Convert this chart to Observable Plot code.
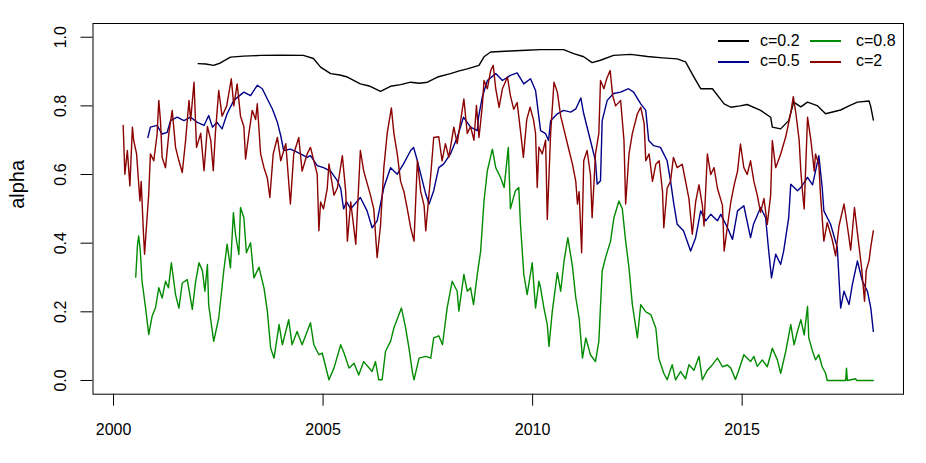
<!DOCTYPE html>
<html>
<head>
<meta charset="utf-8">
<script src="https://cdn.jsdelivr.net/npm/d3@7"></script>
<script src="https://cdn.jsdelivr.net/npm/@observablehq/plot@0.6"></script>
<style>
  html, body { margin: 0; padding: 0; background: white; }
  #wrap { position: relative; width: 926px; height: 463px; font-family: "Liberation Sans", Arial, sans-serif; }
  .legtext { position: absolute; font-size: 16px; line-height: 16px; color: black; white-space: nowrap; }
  .legline { position: absolute; height: 0; width: 31px; border-top-width: 2px; border-top-style: solid; }
</style>
</head>
<body>
<div id="wrap"></div>
<script>
// ---- data (decimal year, alpha) ----
const seriesLabels = ["c=0.2", "c=0.5", "c=0.8", "c=2"];
const seriesColors = ["#000000", "#00008B", "#008B00", "#8B0000"];
const xTicks = [2000, 2005, 2010, 2015];
const yTicks = [0, 0.2, 0.4, 0.6, 0.8, 1.0];

const c02 = [
  [2002.02,0.923],[2002.20,0.922],[2002.39,0.918],[2002.55,0.925],[2002.79,0.942],[2003.10,0.945],[2003.51,0.947],
  [2004.00,0.948],[2004.53,0.947],[2004.77,0.938],[2004.94,0.913],[2005.18,0.894],[2005.40,0.890],[2005.58,0.884],
  [2005.89,0.864],[2006.10,0.858],[2006.37,0.842],[2006.61,0.857],[2006.85,0.862],[2007.09,0.869],[2007.30,0.866],
  [2007.49,0.869],[2007.73,0.884],[2008.04,0.894],[2008.25,0.902],[2008.44,0.908],[2008.72,0.918],[2008.84,0.943],
  [2009.00,0.957],[2009.47,0.960],[2009.85,0.962],[2010.19,0.964],[2010.74,0.964],[2010.98,0.952],[2011.22,0.943],
  [2011.42,0.926],[2011.62,0.933],[2011.93,0.947],[2012.34,0.950],[2012.74,0.944],[2013.10,0.940],[2013.45,0.937],
  [2013.65,0.928],[2013.85,0.884],[2014.01,0.850],[2014.29,0.850],[2014.57,0.806],[2014.73,0.796],[2014.95,0.800],
  [2015.12,0.804],[2015.44,0.787],[2015.68,0.767],[2015.72,0.738],[2015.92,0.733],[2016.11,0.757],[2016.23,0.811],
  [2016.40,0.797],[2016.56,0.811],[2016.79,0.801],[2016.99,0.777],[2017.35,0.788],[2017.55,0.800],[2017.75,0.811],
  [2018.03,0.814],[2018.07,0.797],[2018.13,0.759]
];

const c05 = [
  [2000.82,0.708],[2000.88,0.738],[2001.04,0.743],[2001.16,0.718],[2001.28,0.723],[2001.36,0.757],[2001.52,0.767],
  [2001.68,0.757],[2001.84,0.767],[2002.00,0.752],[2002.16,0.743],[2002.27,0.772],[2002.36,0.738],[2002.47,0.752],
  [2002.59,0.733],[2002.71,0.777],[2002.87,0.816],[2003.11,0.840],[2003.27,0.830],[2003.43,0.860],[2003.55,0.850],
  [2003.67,0.820],[2003.79,0.791],[2003.91,0.752],[2003.99,0.713],[2004.06,0.670],[2004.22,0.674],[2004.38,0.665],
  [2004.62,0.650],[2004.70,0.655],[2004.86,0.626],[2005.01,0.620],[2005.18,0.610],[2005.34,0.582],[2005.42,0.560],
  [2005.49,0.500],[2005.56,0.520],[2005.66,0.500],[2005.89,0.533],[2006.05,0.494],[2006.17,0.445],[2006.29,0.465],
  [2006.45,0.562],[2006.61,0.620],[2006.77,0.601],[2006.92,0.631],[2007.09,0.670],[2007.16,0.679],[2007.25,0.640],
  [2007.33,0.601],[2007.45,0.543],[2007.53,0.514],[2007.64,0.553],[2007.76,0.620],[2007.88,0.631],[2008.04,0.660],
  [2008.20,0.708],[2008.35,0.767],[2008.52,0.738],[2008.68,0.728],[2008.71,0.767],[2008.80,0.826],[2008.92,0.874],
  [2009.12,0.894],[2009.28,0.874],[2009.47,0.889],[2009.63,0.896],[2009.79,0.864],[2009.95,0.879],[2010.07,0.845],
  [2010.19,0.728],[2010.31,0.719],[2010.38,0.699],[2010.43,0.757],[2010.59,0.777],[2010.74,0.787],[2010.91,0.782],
  [2011.03,0.791],[2011.15,0.823],[2011.22,0.777],[2011.38,0.699],[2011.50,0.640],[2011.54,0.572],[2011.62,0.582],
  [2011.66,0.757],[2011.78,0.816],[2011.93,0.836],[2012.10,0.840],[2012.29,0.850],[2012.41,0.840],[2012.58,0.806],
  [2012.70,0.787],[2012.77,0.699],[2012.89,0.684],[2013.05,0.679],[2013.21,0.640],[2013.29,0.582],[2013.37,0.514],
  [2013.45,0.455],[2013.60,0.436],[2013.77,0.377],[2013.89,0.416],[2014.01,0.494],[2014.13,0.465],[2014.25,0.484],
  [2014.41,0.465],[2014.49,0.484],[2014.65,0.445],[2014.77,0.411],[2014.89,0.494],[2015.04,0.509],[2015.20,0.416],
  [2015.27,0.455],[2015.44,0.504],[2015.56,0.474],[2015.63,0.382],[2015.70,0.299],[2015.80,0.368],[2015.92,0.338],
  [2015.99,0.377],[2016.11,0.474],[2016.16,0.572],[2016.32,0.553],[2016.40,0.562],[2016.56,0.592],[2016.68,0.570],
  [2016.83,0.655],[2016.91,0.562],[2016.95,0.494],[2017.11,0.455],[2017.27,0.387],[2017.35,0.211],[2017.43,0.260],
  [2017.55,0.221],[2017.63,0.280],[2017.75,0.348],[2017.87,0.289],[2017.99,0.260],[2018.07,0.211],[2018.13,0.143]
];

const c08 = [
  [2000.53,0.301],[2000.57,0.392],[2000.60,0.421],[2000.64,0.377],[2000.68,0.289],[2000.76,0.216],[2000.84,0.134],
  [2000.92,0.187],[2001.00,0.211],[2001.08,0.270],[2001.16,0.240],[2001.24,0.289],[2001.31,0.270],[2001.38,0.343],
  [2001.48,0.250],[2001.56,0.211],[2001.64,0.284],[2001.76,0.294],[2001.88,0.207],[2001.96,0.289],[2002.04,0.343],
  [2002.12,0.320],[2002.18,0.260],[2002.24,0.338],[2002.27,0.221],[2002.39,0.114],[2002.51,0.182],[2002.63,0.319],
  [2002.71,0.397],[2002.79,0.328],[2002.86,0.489],[2002.91,0.426],[2002.99,0.367],[2003.03,0.504],[2003.11,0.474],
  [2003.17,0.372],[2003.27,0.401],[2003.35,0.299],[2003.47,0.330],[2003.59,0.270],[2003.67,0.202],[2003.75,0.094],
  [2003.83,0.065],[2003.95,0.163],[2004.03,0.104],[2004.18,0.177],[2004.26,0.104],[2004.38,0.143],[2004.50,0.104],
  [2004.70,0.168],[2004.78,0.104],[2004.90,0.075],[2004.98,0.080],[2005.14,0.002],[2005.26,0.036],[2005.42,0.104],
  [2005.50,0.080],[2005.62,0.036],[2005.74,0.050],[2005.85,0.016],[2005.97,0.055],[2006.17,0.026],[2006.25,0.055],
  [2006.33,0.002],[2006.41,0.002],[2006.49,0.085],[2006.61,0.114],[2006.69,0.153],[2006.81,0.192],[2006.87,0.211],
  [2006.97,0.153],[2007.05,0.094],[2007.13,0.026],[2007.17,0.002],[2007.29,0.065],[2007.45,0.070],[2007.57,0.065],
  [2007.64,0.124],[2007.76,0.130],[2007.85,0.104],[2007.96,0.211],[2008.08,0.289],[2008.20,0.260],[2008.24,0.202],
  [2008.36,0.309],[2008.44,0.260],[2008.52,0.270],[2008.59,0.221],[2008.68,0.309],[2008.76,0.377],[2008.84,0.523],
  [2008.92,0.611],[2009.04,0.674],[2009.12,0.620],[2009.24,0.590],[2009.32,0.562],[2009.42,0.679],[2009.47,0.500],
  [2009.59,0.553],[2009.67,0.562],[2009.71,0.455],[2009.79,0.309],[2009.87,0.250],[2009.99,0.343],[2010.07,0.211],
  [2010.15,0.289],[2010.19,0.270],[2010.27,0.211],[2010.35,0.163],[2010.39,0.099],[2010.47,0.202],[2010.59,0.314],
  [2010.67,0.260],[2010.75,0.348],[2010.84,0.416],[2010.95,0.333],[2011.03,0.241],[2011.11,0.182],[2011.19,0.065],
  [2011.27,0.124],[2011.38,0.075],[2011.50,0.055],[2011.58,0.114],[2011.66,0.319],[2011.74,0.358],[2011.86,0.406],
  [2011.94,0.474],[2012.06,0.523],[2012.14,0.500],[2012.22,0.406],[2012.30,0.328],[2012.38,0.221],[2012.50,0.124],
  [2012.58,0.221],[2012.70,0.200],[2012.82,0.192],[2012.94,0.153],[2013.01,0.065],[2013.13,0.021],[2013.21,0.002],
  [2013.33,0.046],[2013.41,0.002],[2013.53,0.026],[2013.65,0.005],[2013.73,0.046],[2013.85,0.030],[2013.97,0.070],
  [2014.05,0.002],[2014.17,0.030],[2014.29,0.046],[2014.41,0.065],[2014.53,0.040],[2014.65,0.045],[2014.73,0.036],
  [2014.84,0.003],[2014.92,0.030],[2015.04,0.075],[2015.20,0.055],[2015.28,0.070],[2015.36,0.041],[2015.48,0.060],
  [2015.60,0.040],[2015.72,0.094],[2015.84,0.060],[2015.92,0.021],[2016.04,0.085],[2016.16,0.163],[2016.24,0.104],
  [2016.32,0.143],[2016.40,0.177],[2016.48,0.133],[2016.56,0.216],[2016.59,0.124],[2016.68,0.085],[2016.75,0.060],
  [2016.83,0.075],[2016.91,0.040],[2016.99,0.021],[2017.03,0.000],[2017.47,0.000],[2017.49,0.036],[2017.51,0.000],
  [2017.71,0.005],[2017.73,0.000],[2018.13,0.000]
];

const c2 = [
  [2000.23,0.743],[2000.27,0.601],[2000.33,0.670],[2000.39,0.567],[2000.45,0.738],[2000.48,0.700],[2000.55,0.660],
  [2000.63,0.523],[2000.66,0.580],[2000.71,0.440],[2000.74,0.368],[2000.80,0.474],[2000.84,0.543],[2000.88,0.660],
  [2000.96,0.640],[2001.04,0.718],[2001.08,0.816],[2001.12,0.757],[2001.16,0.650],[2001.24,0.620],[2001.32,0.720],
  [2001.40,0.787],[2001.48,0.679],[2001.56,0.640],[2001.64,0.606],[2001.72,0.700],[2001.80,0.816],[2001.84,0.757],
  [2001.92,0.869],[2001.98,0.679],[2002.08,0.720],[2002.16,0.611],[2002.24,0.740],[2002.32,0.700],[2002.38,0.611],
  [2002.43,0.720],[2002.51,0.845],[2002.59,0.770],[2002.70,0.800],[2002.81,0.879],[2002.87,0.800],[2002.95,0.864],
  [2003.03,0.770],[2003.11,0.740],[2003.15,0.645],[2003.23,0.720],[2003.31,0.787],[2003.39,0.760],[2003.43,0.806],
  [2003.51,0.660],[2003.59,0.620],[2003.67,0.590],[2003.73,0.533],[2003.81,0.660],[2003.91,0.708],[2003.99,0.640],
  [2004.11,0.690],[2004.22,0.514],[2004.30,0.660],[2004.42,0.708],[2004.50,0.610],[2004.62,0.660],[2004.70,0.679],
  [2004.78,0.640],[2004.86,0.601],[2004.90,0.436],[2004.94,0.520],[2005.01,0.500],[2005.10,0.560],[2005.14,0.631],
  [2005.26,0.540],[2005.34,0.560],[2005.46,0.655],[2005.54,0.550],[2005.58,0.406],[2005.66,0.520],[2005.78,0.397],
  [2005.89,0.670],[2005.97,0.610],[2006.13,0.540],[2006.21,0.500],[2006.29,0.358],[2006.37,0.450],[2006.45,0.620],
  [2006.53,0.720],[2006.63,0.794],[2006.69,0.720],[2006.77,0.660],[2006.85,0.580],[2006.93,0.550],[2007.01,0.500],
  [2007.09,0.445],[2007.17,0.406],[2007.25,0.640],[2007.33,0.550],[2007.41,0.510],[2007.45,0.436],[2007.57,0.600],
  [2007.64,0.708],[2007.76,0.710],[2007.84,0.640],[2007.92,0.690],[2008.00,0.650],[2008.12,0.738],[2008.20,0.690],
  [2008.36,0.820],[2008.44,0.720],[2008.52,0.740],[2008.60,0.700],[2008.66,0.801],[2008.72,0.708],[2008.80,0.800],
  [2008.84,0.874],[2008.92,0.850],[2009.00,0.903],[2009.06,0.918],[2009.12,0.850],[2009.20,0.796],[2009.28,0.850],
  [2009.40,0.884],[2009.47,0.830],[2009.55,0.790],[2009.63,0.810],[2009.71,0.728],[2009.78,0.650],[2009.86,0.760],
  [2009.94,0.796],[2010.02,0.760],[2010.07,0.720],[2010.11,0.562],[2010.15,0.680],[2010.23,0.660],[2010.31,0.700],
  [2010.35,0.469],[2010.43,0.720],[2010.51,0.869],[2010.59,0.840],[2010.67,0.770],[2010.75,0.730],[2010.87,0.670],
  [2010.95,0.631],[2011.03,0.580],[2011.07,0.514],[2011.11,0.550],[2011.17,0.372],[2011.22,0.640],[2011.30,0.670],
  [2011.38,0.600],[2011.42,0.474],[2011.50,0.660],[2011.58,0.720],[2011.62,0.874],[2011.70,0.850],[2011.77,0.880],
  [2011.85,0.903],[2011.91,0.830],[2011.98,0.800],[2012.10,0.816],[2012.18,0.700],[2012.22,0.514],[2012.30,0.660],
  [2012.38,0.720],[2012.50,0.777],[2012.58,0.796],[2012.66,0.750],[2012.70,0.640],[2012.78,0.660],[2012.86,0.580],
  [2012.94,0.630],[2013.02,0.640],[2013.10,0.550],[2013.13,0.445],[2013.21,0.560],[2013.29,0.580],[2013.36,0.650],
  [2013.45,0.620],[2013.57,0.630],[2013.65,0.580],[2013.73,0.530],[2013.81,0.426],[2013.89,0.520],[2013.97,0.570],
  [2014.05,0.510],[2014.09,0.450],[2014.17,0.660],[2014.25,0.600],[2014.33,0.620],[2014.41,0.560],[2014.53,0.510],
  [2014.57,0.377],[2014.65,0.450],[2014.73,0.520],[2014.81,0.570],[2014.89,0.610],[2014.96,0.689],[2015.04,0.620],
  [2015.12,0.600],[2015.20,0.640],[2015.28,0.580],[2015.36,0.540],[2015.44,0.490],[2015.52,0.530],[2015.60,0.455],
  [2015.68,0.540],[2015.72,0.699],[2015.80,0.620],[2015.92,0.660],[2016.04,0.710],[2016.16,0.780],[2016.22,0.827],
  [2016.28,0.780],[2016.36,0.700],[2016.40,0.610],[2016.44,0.550],[2016.48,0.500],[2016.56,0.767],[2016.64,0.700],
  [2016.72,0.610],[2016.75,0.660],[2016.83,0.630],[2016.87,0.540],[2016.95,0.406],[2017.03,0.460],[2017.15,0.410],
  [2017.23,0.363],[2017.31,0.450],[2017.43,0.514],[2017.51,0.450],[2017.59,0.380],[2017.68,0.504],[2017.75,0.430],
  [2017.85,0.328],[2017.92,0.231],[2017.96,0.320],[2018.03,0.350],[2018.07,0.390],[2018.13,0.436]
];

const allSeries = [c02, c05, c08, c2];

const chart = Plot.plot({
  width: 926,
  height: 463,
  marginLeft: 92.5,
  marginRight: 23,
  marginTop: 23,
  marginBottom: 69.3,
  x: { domain: [1999.51, 2018.85] },
  y: { domain: [-0.04, 1.04] },
  style: { fontFamily: "'Liberation Sans', Arial, sans-serif", fontSize: "16px", color: "black", background: "white" },
  marks: [
    Plot.axisX({ ticks: xTicks, tickFormat: "d", tickSize: 12, tickPadding: 17, label: null, fontSize: "16px" }),
    Plot.axisY({ ticks: yTicks, tickFormat: ".1f", tickSize: 12, tickPadding: 15, tickRotate: -90, label: null, fontSize: "16px" }),
    Plot.text(["alpha"], { frameAnchor: "left", dx: -75, rotate: -90, text: d => d, fontSize: "20px" }),
    ...allSeries.map((s, i) => Plot.line(s, { x: d => d[0], y: d => d[1], stroke: seriesColors[i], strokeWidth: 1.4 })),
    Plot.frame({ stroke: "black", strokeWidth: 1 })
  ]
});

const wrap = document.getElementById("wrap");
wrap.appendChild(chart);

// legend (two columns, two rows) inside top-right of plot
const legPos = [
  { sx: 718, tx: 760, y: 41 },
  { sx: 718, tx: 760, y: 61.5 },
  { sx: 810, tx: 856, y: 41 },
  { sx: 810, tx: 856, y: 61.5 }
];
seriesLabels.forEach((lab, i) => {
  const p = legPos[i];
  const line = document.createElement("div");
  line.className = "legline";
  line.style.left = p.sx + "px";
  line.style.top = (p.y - 1) + "px";
  line.style.borderTopColor = seriesColors[i];
  wrap.appendChild(line);
  const t = document.createElement("div");
  t.className = "legtext";
  t.textContent = lab;
  t.style.left = p.tx + "px";
  t.style.top = (p.y - 8.5) + "px";
  wrap.appendChild(t);
});
</script>
</body>
</html>
